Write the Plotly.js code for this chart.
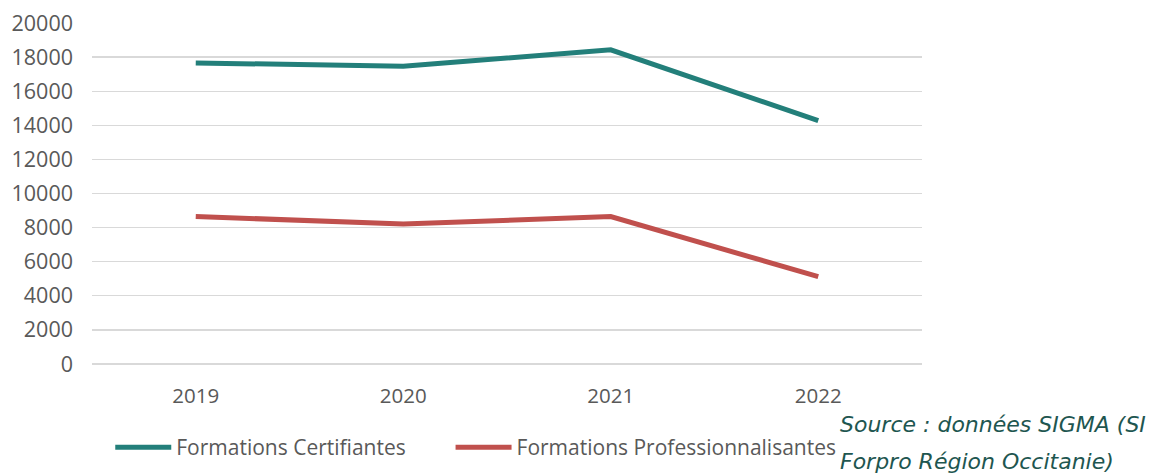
<!DOCTYPE html>
<html>
<head>
<meta charset="utf-8">
<script src="https://cdn.plot.ly/plotly-3.0.1.min.js"></script>
<style>html,body{margin:0;padding:0;background:#fff;}#chart{width:1152px;height:474px;}</style>
</head>
<body>
<div id="chart"></div>
<script>
var years = ['2019', '2020', '2021', '2022'];
var certifiantes = [17660, 17460, 18430, 14270];
var professionnalisantes = [8650, 8210, 8650, 5120];
var yTicks = [0, 2000, 4000, 6000, 8000, 10000, 12000, 14000, 16000, 18000, 20000];
var sourceLine1 = 'Source : données SIGMA (SI';
var sourceLine2 = 'Forpro Région Occitanie)';

var traces = [
  {x: years, y: certifiantes, type: 'scatter', mode: 'lines', name: 'Formations Certifiantes',
   line: {color: '#237f7a', width: 5}, legend: 'legend'},
  {x: years, y: professionnalisantes, type: 'scatter', mode: 'lines', name: 'Formations Professionnalisantes',
   line: {color: '#c0504d', width: 5}, legend: 'legend2'}
];

var legendBase = {orientation: 'h', y: -0.245, xanchor: 'left', yanchor: 'middle',
  font: {family: 'Open Sans, sans-serif', size: 21, color: '#595959'}, itemwidth: 56,
  bgcolor: 'rgba(0,0,0,0)'};

var layout = {
  width: 1152, height: 474,
  margin: {l: 92, r: 230, t: 23, b: 110, autoexpand: false},
  paper_bgcolor: '#ffffff', plot_bgcolor: '#ffffff',
  font: {family: 'Open Sans, sans-serif', size: 21, color: '#595959'},
  showlegend: true,
  xaxis: {type: 'category', range: [-0.5, 3.5], showgrid: false, zeroline: false, showline: false,
          ticks: '', ticklabelstandoff: 17, tickfont: {size: 20.5, color: '#595959'}},
  yaxis: {range: [0, 20000], tickvals: yTicks, ticktext: yTicks.map(String), showgrid: true,
          gridcolor: '#d9d9d9', gridwidth: 1.3, zeroline: true, zerolinecolor: '#d9d9d9', zerolinewidth: 1.3,
          showline: false, ticks: '', ticklabelstandoff: 18, tickfont: {size: 21.5, color: '#595959'}},
  legend: Object.assign({}, legendBase, {x: 0.022}),
  legend2: Object.assign({}, legendBase, {x: 0.432}),
  annotations: [
    {text: sourceLine1, xref: 'paper', yref: 'paper', x: 0.899, y: -0.178, xanchor: 'left', yanchor: 'middle',
     showarrow: false, font: {family: 'DejaVu Sans, Verdana, sans-serif', size: 22, color: '#1e5650', style: 'italic'}},
    {text: sourceLine2, xref: 'paper', yref: 'paper', x: 0.899, y: -0.286, xanchor: 'left', yanchor: 'middle',
     showarrow: false, font: {family: 'DejaVu Sans, Verdana, sans-serif', size: 22, color: '#1e5650', style: 'italic'}}
  ]
};

Plotly.newPlot('chart', traces, layout, {displayModeBar: false, staticPlot: true});
</script>
</body>
</html>
